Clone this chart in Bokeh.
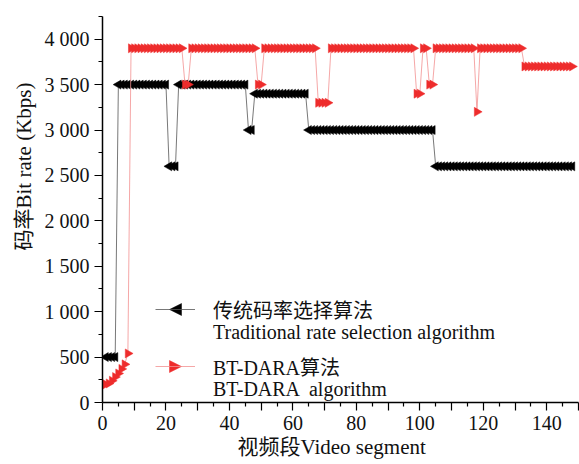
import math
from bokeh.plotting import figure
from bokeh.models import (Range1d, FixedTicker, Legend, LegendItem, Title, Arrow, NormalHead)
from bokeh.embed import file_html
from bokeh.resources import INLINE

# ---------------- data ----------------
segments = list(range(1, 149))

traditional_kbps = [
    500, 500, 500, 500,
    3500, 3500, 3500, 3500, 3500, 3500, 3500, 3500,
    3500, 3500, 3500, 3500, 3500, 3500, 3500, 3500,
    2600, 2600, 2600,
    3500, 3500, 3500, 3500, 3500, 3500, 3500, 3500,
    3500, 3500, 3500, 3500, 3500, 3500, 3500, 3500,
    3500, 3500, 3500, 3500, 3500, 3500,
    3000, 3000,
    3400, 3400, 3400, 3400, 3400, 3400, 3400, 3400,
    3400, 3400, 3400, 3400, 3400, 3400, 3400, 3400,
    3400,
    3000, 3000, 3000, 3000, 3000, 3000, 3000, 3000,
    3000, 3000, 3000, 3000, 3000, 3000, 3000, 3000,
    3000, 3000, 3000, 3000, 3000, 3000, 3000, 3000,
    3000, 3000, 3000, 3000, 3000, 3000, 3000, 3000,
    3000, 3000, 3000, 3000, 3000, 3000, 3000, 3000,
    2600, 2600, 2600, 2600, 2600, 2600, 2600, 2600,
    2600, 2600, 2600, 2600, 2600, 2600, 2600, 2600,
    2600, 2600, 2600, 2600, 2600, 2600, 2600, 2600,
    2600, 2600, 2600, 2600, 2600, 2600, 2600, 2600,
    2600, 2600, 2600, 2600, 2600, 2600, 2600, 2600,
    2600, 2600, 2600, 2600,
]

btdara_kbps = [
    200, 210, 240, 280, 320, 370, 420, 540,
    3900, 3900, 3900, 3900, 3900, 3900, 3900, 3900,
    3900, 3900, 3900, 3900, 3900, 3900, 3900, 3900,
    3900,
    3500, 3500,
    3900, 3900, 3900, 3900, 3900, 3900, 3900, 3900,
    3900, 3900, 3900, 3900, 3900, 3900, 3900, 3900,
    3900, 3900, 3900, 3900, 3900,
    3500, 3500,
    3900, 3900, 3900, 3900, 3900, 3900, 3900, 3900,
    3900, 3900, 3900, 3900, 3900, 3900, 3900, 3900,
    3900,
    3300, 3300, 3300, 3300,
    3900, 3900, 3900, 3900, 3900, 3900, 3900, 3900,
    3900, 3900, 3900, 3900, 3900, 3900, 3900, 3900,
    3900, 3900, 3900, 3900, 3900, 3900, 3900, 3900,
    3900, 3900, 3900,
    3400, 3400,
    3900, 3900,
    3500, 3500,
    3900, 3900, 3900, 3900, 3900, 3900, 3900, 3900,
    3900, 3900, 3900, 3900, 3900,
    3200,
    3900, 3900, 3900, 3900, 3900, 3900, 3900, 3900,
    3900, 3900, 3900, 3900, 3900, 3900,
    3700, 3700, 3700, 3700, 3700, 3700, 3700, 3700,
    3700, 3700, 3700, 3700, 3700, 3700, 3700, 3700,
]

y_tick_values = [0, 500, 1000, 1500, 2000, 2500, 3000, 3500, 4000]
y_tick_labels = ["0", "500", "1 000", "1 500", "2 000", "2 500", "3 000", "3 500", "4 000"]
y_minor_values = [250, 750, 1250, 1750, 2250, 2750, 3250, 3750, 4250]
x_major_values = [0, 10, 20, 30, 40, 50, 60, 70, 80, 90, 100, 110, 120, 130, 140, 150]
x_tick_values = [0, 20, 40, 60, 80, 100, 120, 140]
x_tick_labels = ["0", "20", "40", "60", "80", "100", "120", "140"]
x_minor_values = [5, 15, 25, 35, 45, 55, 65, 75, 85, 95, 105, 115, 125, 135, 145]

label_traditional_cn = "传统码率选择算法"
label_traditional_en = "Traditional rate selection algorithm"
label_btdara_cn = "BT-DARA算法"
label_btdara_en = "BT-DARA  algorithm"
y_title = "码率Bit rate (Kbps)"
x_title = "视频段Video segment"

# ---------------- style ----------------
FONT = "'Liberation Serif', 'Noto Sans CJK SC'"
RED = "#ee2c2c"
TXT = "#111111"

p = figure(width=579, height=464, x_range=Range1d(0, 150), y_range=Range1d(0, 4250),
           output_backend="svg", toolbar_location=None,
           min_border_left=102, min_border_right=1, min_border_top=16, min_border_bottom=62)
p.outline_line_color = None
p.xgrid.visible = False
p.ygrid.visible = False
p.background_fill_color = "white"
p.border_fill_color = "white"

p.xaxis.ticker = FixedTicker(ticks=x_major_values, minor_ticks=x_minor_values)
x_over = {v: "" for v in x_major_values}
x_over.update(dict(zip(x_tick_values, x_tick_labels)))
p.xaxis.major_label_overrides = x_over
p.yaxis.ticker = FixedTicker(ticks=y_tick_values, minor_ticks=y_minor_values)
p.yaxis.major_label_overrides = dict(zip(y_tick_values, y_tick_labels))

for ax in (p.xaxis[0], p.yaxis[0]):
    ax.axis_line_color = "black"
    ax.axis_line_width = 1.5
    ax.major_tick_line_color = "black"
    ax.minor_tick_line_color = "black"
    ax.major_tick_line_width = 1.2
    ax.minor_tick_line_width = 1.2
    ax.major_tick_in = 0
    ax.major_tick_out = 8
    ax.minor_tick_in = 0
    ax.minor_tick_out = 4
    ax.major_label_text_font = FONT
    ax.major_label_text_font_size = "20px"
    ax.major_label_text_color = TXT
    ax.major_label_standoff = 5

# ---------------- data glyphs ----------------
black_line = p.line(segments, traditional_kbps, line_color="#555555", line_width=0.8)
black_pts = p.scatter(segments, traditional_kbps, marker="triangle", angle=math.pi / 2,
                      size=9, fill_color="black", line_color="black", line_width=0.5)
red_line = p.line(segments, btdara_kbps, line_color="#f39090", line_width=0.8)
red_pts = p.scatter(segments, btdara_kbps, marker="triangle", angle=-math.pi / 2,
                    size=9, fill_color=RED, line_color=RED, line_width=0.5)
blank = p.line([], [], line_alpha=0)

# ---------------- legends (one line per legend) ----------------
LEG_X = 53        # left of legend glyph, px from frame left
GLYPH_W = 40

def one_line_legend(label, renderers, y):
    return Legend(items=[LegendItem(label=label, renderers=renderers)],
                  location=(LEG_X, y), orientation="vertical",
                  glyph_width=GLYPH_W, glyph_height=30, label_height=20,
                  label_standoff=18, spacing=0, padding=0, margin=0,
                  border_line_alpha=0, background_fill_alpha=0,
                  label_text_font=FONT, label_text_font_size="20px",
                  label_text_color=TXT)

for lg in (one_line_legend(label_traditional_cn, [black_line], 78),
           one_line_legend(label_traditional_en, [blank], 55),
           one_line_legend(label_btdara_cn, [red_line], 21),
           one_line_legend(label_btdara_en, [blank], -2)):
    p.add_layout(lg)

# legend symbols: left / right pointing triangles on the legend lines
cx = LEG_X + GLYPH_W / 2
p.add_layout(Arrow(end=NormalHead(size=12, fill_color="black", line_color="black", line_width=0.5),
                   x_start=cx + 6, y_start=93, x_end=cx - 6, y_end=93,
                   start_units="screen", end_units="screen", line_alpha=0))
p.add_layout(Arrow(end=NormalHead(size=12, fill_color=RED, line_color=RED, line_width=0.5),
                   x_start=cx - 6, y_start=36, x_end=cx + 6, y_end=36,
                   start_units="screen", end_units="screen", line_alpha=0))

# ---------------- axis titles ----------------
p.add_layout(Title(text=y_title, align="left", offset=152, standoff=10,
                   vertical_align="middle",
                   text_font=FONT, text_font_size="21px", text_font_style="normal",
                   text_color=TXT), "left")
p.add_layout(Title(text=x_title, align="left", offset=135, standoff=3,
                   vertical_align="middle",
                   text_font=FONT, text_font_size="21px", text_font_style="normal",
                   text_color=TXT), "below")

open("out.html", "w").write(file_html(p, INLINE))
